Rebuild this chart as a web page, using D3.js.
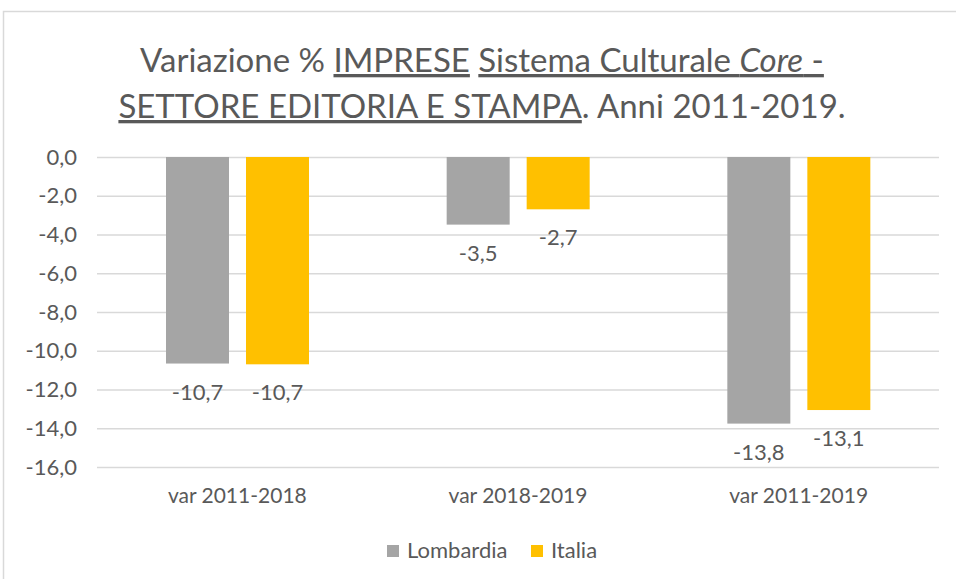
<!DOCTYPE html>
<html>
<head>
<meta charset="utf-8">
<script src="https://d3js.org/d3.v7.min.js"></script>
<style>
  body { margin: 0; background: #fff; }
  text { font-family: Lato, "Open Sans", sans-serif; fill: #595959; }
</style>
</head>
<body>
<script>
// data
const categories = ["var 2011-2018", "var 2018-2019", "var 2011-2019"];
const seriesNames = ["Lombardia", "Italia"];
const lombardia = [-10.66, -3.49, -13.76];
const italia = [-10.7, -2.7, -13.06];
const yTicks = [0, -2, -4, -6, -8, -10, -12, -14, -16];
const colors = ["#A5A5A5", "#FFC000"];

const W = 956, H = 579;
const svg = d3.select("body").append("svg").attr("width", W).attr("height", H);

// outer chart frame (continues past the right/bottom edge)
svg.append("rect")
  .attr("x", 3.5).attr("y", 11.5).attr("width", 1200).attr("height", 1200)
  .attr("fill", "white").attr("stroke", "#d9d9d9").attr("stroke-width", 1.5);

// title with underlined parts
const title = svg.append("text").attr("text-anchor", "middle").style("font-size", "33px");
const l1 = title.append("tspan").attr("x", 482).attr("y", 72);
l1.append("tspan").text("Variazione % ");
l1.append("tspan").style("text-decoration", "underline").text("IMPRESE");
l1.append("tspan").text(" ");
const u1 = l1.append("tspan").style("text-decoration", "underline");
u1.append("tspan").text("Sistema Culturale ");
u1.append("tspan").style("font-style", "italic").text("Core");
u1.append("tspan").text(" -");
const l2 = title.append("tspan").attr("x", 482).attr("y", 118);
l2.append("tspan").style("text-decoration", "underline").text("SETTORE EDITORIA E STAMPA");
l2.append("tspan").text(". Anni 2011-2019.");

const x0 = d3.scaleBand().domain(categories).range([97, 939]).paddingInner(0).paddingOuter(0);
const x1 = d3.scaleBand().domain(seriesNames).range([69, 212]).paddingInner(0.2125);
const y = d3.scaleLinear().domain([-16, 0]).range([467, 157]);

const fmt = v => d3.format(".1f")(v).replace(".", ",").replace("−", "-");

// gridlines + y labels
const yAxis = d3.axisLeft(y).tickValues(yTicks).tickSize(-(939 - 97)).tickPadding(20).tickFormat(fmt);
const ga = svg.append("g").attr("transform", "translate(97,0)").call(yAxis);
ga.select(".domain").remove();
ga.selectAll(".tick line").attr("stroke", "#d9d9d9").attr("stroke-width", 1.5);
ga.selectAll(".tick text").style("font-size", "22px").attr("fill", "#595959").attr("font-family", null);

// bars
const data = categories.map((c, i) => ({ cat: c, vals: [lombardia[i], italia[i]] }));
const groups = svg.selectAll("g.grp").data(data).join("g")
  .attr("class", "grp")
  .attr("transform", d => `translate(${x0(d.cat)},0)`);

groups.selectAll("rect").data(d => d.vals.map((v, j) => ({ s: seriesNames[j], v, j })))
  .join("rect")
  .attr("x", d => x1(d.s))
  .attr("width", x1.bandwidth())
  .attr("y", y(0))
  .attr("height", d => y(d.v) - y(0))
  .attr("fill", d => colors[d.j]);

groups.selectAll("text.lbl").data(d => d.vals.map((v, j) => ({ s: seriesNames[j], v, j })))
  .join("text")
  .attr("class", "lbl")
  .attr("x", d => x1(d.s) + x1.bandwidth() / 2)
  .attr("y", d => y(d.v) + 36)
  .attr("text-anchor", "middle")
  .style("font-size", "22px")
  .text(d => fmt(d.v));

// category labels
svg.selectAll("text.cat").data(categories).join("text")
  .attr("class", "cat")
  .attr("x", d => x0(d) + x0.bandwidth() / 2)
  .attr("y", 503)
  .attr("text-anchor", "middle")
  .style("font-size", "21px")
  .text(d => d);

// legend
const legendX = [387, 531];
const lg = svg.selectAll("g.leg").data(seriesNames).join("g")
  .attr("class", "leg")
  .attr("transform", (d, i) => `translate(${legendX[i]},545)`);
lg.append("rect").attr("width", 12).attr("height", 12).attr("fill", (d, i) => colors[i]);
lg.append("text").attr("x", 20).attr("y", 13).style("font-size", "22px").text(d => d);
</script>
</body>
</html>
